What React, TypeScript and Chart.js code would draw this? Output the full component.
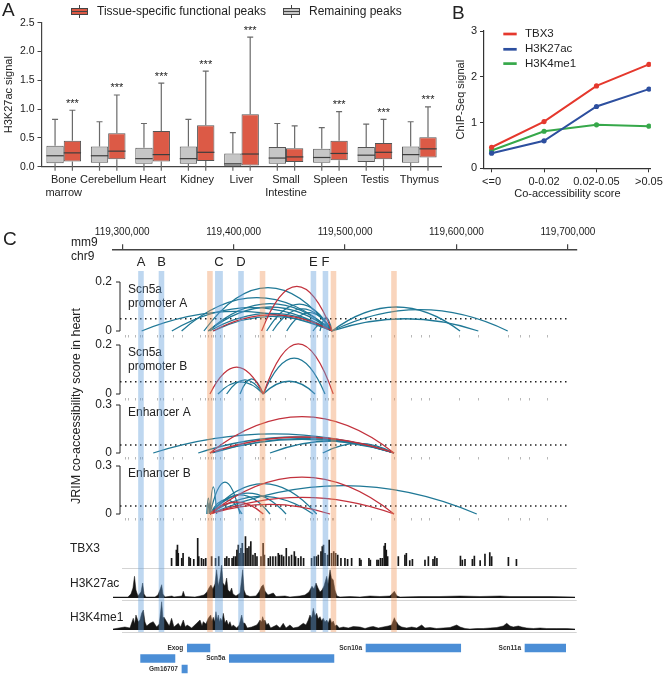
import React, { useEffect, useRef } from 'react';
import { Chart, registerables } from 'chart.js';

Chart.register(...registerables);

const FONT = '"Liberation Sans", Arial, Helvetica, sans-serif';
Chart.defaults.font.family = FONT;
Chart.defaults.color = '#222';

// ================= Panel A data =================
const tissues = [['Bone', 'marrow'], 'Cerebellum', 'Heart', 'Kidney', 'Liver', ['Small', 'Intestine'], 'Spleen', 'Testis', 'Thymus'];
const remainingMin = [0, 0, 0, 0, 0, 0, 0, 0, 0];
const remainingQ1 = [0.06, 0.07, 0.05, 0.05, 0.0, 0.05, 0.07, 0.08, 0.07];
const remainingMedian = [0.19, 0.19, 0.14, 0.14, 0.05, 0.15, 0.16, 0.2, 0.21];
const remainingQ3 = [0.365, 0.35, 0.33, 0.35, 0.23, 0.34, 0.31, 0.34, 0.35];
const remainingMax = [0.82, 0.78, 0.75, 0.82, 0.59, 0.75, 0.68, 0.74, 0.78];
const specificMin = [0, 0, 0, 0, 0, 0, 0, 0, 0];
const specificQ1 = [0.09, 0.13, 0.09, 0.1, 0.02, 0.08, 0.11, 0.13, 0.16];
const specificMedian = [0.24, 0.27, 0.21, 0.25, 0.22, 0.17, 0.23, 0.25, 0.31];
const specificQ3 = [0.45, 0.58, 0.62, 0.72, 0.91, 0.32, 0.45, 0.41, 0.51];
const specificMax = [0.98, 1.245, 1.45, 1.66, 2.25, 0.71, 0.955, 0.82, 1.04];
const significance = ['***', '***', '***', '***', '***', '', '***', '***', '***'];

// ================= Panel B data =================
const coBins = ['<=0', '0-0.02', '0.02-0.05', '>0.05'];
const tbx3Signal = [0.46, 1.02, 1.8, 2.27];
const h3k27acSignal = [0.33, 0.6, 1.35, 1.73];
const h3k4me1Signal = [0.39, 0.81, 0.95, 0.92];

// ================= Panel C data (kb on chr9, mm9) =================
const XMIN = 119291.7;
const XMAX = 119707.9;
const genomeTicks = [119300, 119400, 119500, 119600, 119700];
const blueBands = [[119314.3, 119319.3], [119332.7, 119337.7], [119383.3, 119390.3], [119404.1, 119409.1], [119469.1, 119474.1], [119479.9, 119484.9]];
const blueBandLetters = ['A', 'B', 'C', 'D', 'E', 'F'];
const orangeBands = [[119376.2, 119381.2], [119423.4, 119428.4], [119487.1, 119492.1], [119541.4, 119546.4]];

const peakSites = [119302.4, 119305.1, 119311.4, 119315.9, 119317.4, 119330.9, 119333.8, 119336.8, 119345.5, 119353.3,
  119369.8, 119374.2, 119376.9, 119379.4, 119381.4, 119383.2, 119387.7, 119391.3, 119405.7, 119419.1, 119421.8,
  119425.4, 119426.3, 119432.6, 119446.1, 119468.5, 119471.2, 119474.5, 119482.0, 119484.7, 119488.0, 119489.1,
  119523.0, 119544.2, 119558.9, 119567.9, 119575.6, 119602.5, 119619.6, 119646.0, 119657.0, 119665.1, 119681.5];

// [start kb, end kb, co-accessibility score, colour group]
const promoterAArcs = [
  [119317.4, 119488.3, 0.08, 't'], [119344.5, 119488.3, 0.095, 't'], [119353.3, 119488.3, 0.136, 't'],
  [119373.3, 119488.3, 0.177, 't'], [119377.2, 119488.3, 0.112, 't'], [119377.2, 119488.3, 0.098, 't'],
  [119378.5, 119488.3, 0.072, 't'], [119381.7, 119488.3, 0.06, 't'], [119429.6, 119488.3, 0.11, 't'],
  [119435.0, 119488.3, 0.09, 't'], [119447.6, 119488.3, 0.075, 't'], [119471.2, 119488.3, 0.03, 't'],
  [119477.5, 119488.3, 0.055, 't'], [119488.3, 119603.2, 0.098, 't'], [119488.3, 119619.6, 0.05, 't'],
  [119488.3, 119646.0, 0.087, 't'], [119381.7, 119488.3, 0.066, 'r'], [119425.1, 119488.3, 0.182, 'r'],
];
const promoterBArcs = [
  [119385.9, 119426.6, 0.05, 't'], [119393.7, 119426.6, 0.058, 't'], [119405.7, 119426.6, 0.062, 't'],
  [119426.6, 119473.0, 0.052, 't'], [119426.6, 119482.0, 0.146, 't'],
  [119378.7, 119426.6, 0.11, 'r'], [119426.6, 119489.4, 0.205, 'r'],
];
const enhancerAArcs = [
  [119327.8, 119543.9, 0.119, 't'], [119368.2, 119543.9, 0.1, 't'], [119378.7, 119543.9, 0.085, 't'],
  [119381.0, 119543.9, 0.092, 't'], [119432.6, 119543.9, 0.075, 't'], [119480.0, 119543.9, 0.06, 't'],
  [119378.7, 119543.9, 0.227, 'r'], [119378.7, 119543.9, 0.1, 'r'],
];
const enhancerBArcs = [
  [119375.9, 119378.7, 0.1, 't'], [119376.9, 119378.7, 0.07, 't'], [119378.7, 119384.7, 0.17, 't'],
  [119378.7, 119405.7, 0.2, 't'], [119378.7, 119407.5, 0.09, 't'], [119378.7, 119432.6, 0.12, 't'],
  [119378.7, 119447.0, 0.13, 't'], [119378.7, 119471.2, 0.11, 't'], [119378.7, 119474.5, 0.19, 't'],
  [119378.7, 119618.2, 0.177, 't'], [119378.7, 119426.6, 0.075, 'r'], [119378.7, 119486.5, 0.06, 'r'],
  [119378.7, 119543.9, 0.104, 'r'], [119378.7, 119543.9, 0.23, 'r'],
];

// ChIP-seq signal bins [kb, signal]
const tbx3Bins = [
  [119305.4, 7.7], [119310.8, 16], [119312.0, 21], [119312.9, 12.7], [119316.8, 7.7], [119318.3, 12.7], [119324.9, 9],
  [119326.4, 7.7], [119330.3, 6.7], [119334.7, 27.7], [119335.9, 9.3], [119339.0, 7.7], [119341.3, 6.7], [119343.7, 7.7],
  [119350.3, 9.3], [119354.8, 7.7], [119358.3, 9.3], [119365.3, 7.7], [119367.3, 9.3], [119369.8, 7.7], [119373.3, 7.7],
  [119375.1, 9.3], [119377.2, 9.3], [119378.7, 16], [119380.3, 21], [119381.7, 12.7], [119383.2, 17.7], [119384.7, 22.7],
  [119386.2, 12.7], [119388.3, 29.3], [119390.1, 17.7], [119392.2, 19.3], [119394.3, 24.3], [119396.7, 11], [119399.1, 12.7],
  [119401.2, 9.3], [119405.7, 9.3], [119408.1, 22.7], [119409.5, 11], [119414.0, 7.7], [119416.2, 9.3], [119419.1, 9.3],
  [119422.1, 9.3], [119425.1, 12.7], [119426.6, 11], [119429.0, 11], [119431.1, 9.3], [119434.1, 17.7], [119437.1, 9.3],
  [119440.0, 11], [119443.1, 14.3], [119444.5, 9.3], [119447.6, 7.7], [119450.5, 9.3], [119453.5, 7.7], [119462.5, 7.7],
  [119465.5, 9.3], [119467.9, 9.3], [119470.0, 11], [119473.0, 14.3], [119474.5, 19.3], [119475.9, 21], [119477.5, 12.7],
  [119480.4, 11], [119482.2, 26], [119484.9, 12.7], [119487.3, 14.3], [119489.4, 12.7], [119491.8, 11], [119495.4, 7.7],
  [119499.9, 7.7], [119502.9, 6.7], [119507.4, 7.7], [119516.4, 7.7], [119517.9, 6], [119526.8, 7.7], [119528.4, 6],
  [119535.8, 6], [119537.3, 6], [119539.7, 7.7], [119541.8, 7.7], [119543.9, 20], [119545.1, 22.7], [119546.3, 16],
  [119547.8, 9.3], [119559.8, 9.3], [119567.2, 11], [119568.8, 12.7], [119572.6, 5.3], [119575.6, 6.7], [119589.7, 6],
  [119593.5, 9.3], [119598.7, 6.7], [119600.7, 9.3], [119603.1, 7.7], [119629.5, 10], [119631.6, 6], [119634.6, 6.7],
  [119642.9, 6.7], [119645.1, 10], [119651.6, 5.3], [119657.0, 12], [119662.4, 13.3], [119664.5, 9.3], [119683.3, 8.7],
  [119692.3, 6.7],
];
const h3k27acProfile = [
  [119291.7, 1], [119305.1, 1], [119307.8, 4], [119309.6, 10], [119311.0, 21.7], [119312.3, 8], [119314.1, 2], [119316.8, 6],
  [119318.3, 15], [119319.5, 4], [119321.3, 1], [119329.4, 1], [119332.0, 3], [119333.8, 8], [119335.4, 13.3], [119336.5, 4],
  [119338.3, 1], [119344.6, 2], [119346.4, 1], [119353.6, 2], [119354.8, 6.7], [119356.3, 1.5], [119365.3, 1], [119369.8, 2],
  [119373.3, 3], [119376.0, 6], [119377.8, 10], [119379.6, 13], [119381.4, 9], [119383.2, 14], [119384.7, 28.3],
  [119386.2, 12], [119387.7, 20], [119389.2, 33], [119390.4, 15], [119392.2, 12], [119393.7, 20], [119394.9, 8],
  [119396.7, 6], [119398.2, 10], [119399.4, 4], [119402.1, 2], [119405.7, 5], [119408.1, 28.3], [119409.3, 8], [119411.0, 3],
  [119414.6, 1.5], [119420.0, 2], [119422.7, 6], [119425.1, 11.7], [119426.6, 13.3], [119428.1, 7], [119430.8, 3],
  [119435.6, 5], [119438.0, 1.5], [119446.1, 2], [119450.5, 1], [119459.5, 2], [119464.0, 3], [119467.6, 6], [119470.3, 11.7],
  [119472.1, 9], [119473.9, 15], [119475.7, 10], [119477.5, 6], [119479.3, 8], [119481.1, 12], [119483.5, 21.7],
  [119484.7, 14], [119486.5, 28.3], [119487.8, 20], [119489.4, 18], [119490.9, 8], [119492.7, 2], [119495.4, 1],
  [119504.4, 1.5], [119513.4, 1], [119522.4, 2], [119531.3, 1.5], [119540.3, 2], [119544.2, 6.7], [119546.6, 2],
  [119549.3, 1], [119567.2, 1.5], [119585.2, 1.5], [119603.2, 2], [119621.1, 1.5], [119639.1, 2], [119648.0, 1.5],
  [119666.0, 1.5], [119684.0, 1.5], [119706.4, 1],
];
const h3k4me1Profile = [
  [119291.7, 1], [119302.4, 3], [119306.9, 2], [119309.9, 11.7], [119311.1, 6], [119312.3, 15], [119314.4, 8.3], [119315.9, 10],
  [119317.4, 16.7], [119318.9, 20], [119320.4, 8], [119321.9, 4], [119324.9, 6.7], [119327.8, 8.3], [119330.9, 3],
  [119333.2, 6], [119335.4, 28.3], [119336.5, 12], [119337.4, 13], [119339.9, 8.3], [119342.2, 4], [119344.3, 11.7],
  [119346.4, 3], [119350.3, 6.7], [119352.4, 3], [119354.8, 10], [119356.6, 3], [119358.3, 5], [119362.3, 2], [119366.8, 6.7],
  [119369.8, 10], [119371.6, 4], [119372.7, 8.3], [119375.1, 6], [119377.2, 11.7], [119379.4, 15], [119380.5, 9],
  [119381.7, 12.7], [119382.9, 8], [119384.1, 18.3], [119385.3, 10], [119386.2, 15], [119387.4, 8], [119388.3, 11.7],
  [119389.5, 9], [119390.7, 16.7], [119392.2, 7], [119393.7, 10], [119395.2, 5], [119396.7, 8.3], [119398.2, 3],
  [119399.6, 5], [119402.7, 2], [119405.0, 5], [119407.2, 15], [119408.6, 7], [119410.1, 6.7], [119412.2, 2], [119416.2, 3],
  [119420.7, 5], [119422.1, 7], [119423.6, 10], [119425.1, 8], [119426.0, 13.3], [119427.2, 9], [119428.1, 10],
  [119429.6, 5], [119431.1, 6.7], [119433.2, 2], [119438.6, 5], [119441.6, 2], [119444.5, 6.7], [119447.0, 2], [119450.5, 5],
  [119453.5, 2], [119458.0, 3], [119462.5, 6.7], [119464.9, 5], [119467.0, 10], [119468.5, 15], [119470.0, 12],
  [119471.5, 21.7], [119473.0, 14], [119474.5, 16.7], [119475.9, 11], [119477.5, 13.3], [119479.0, 9], [119480.4, 11.7],
  [119482.0, 8], [119483.5, 10], [119484.9, 7], [119486.5, 11.7], [119488.0, 7], [119489.4, 8.9], [119490.9, 4],
  [119492.5, 5], [119494.8, 2], [119498.4, 3], [119502.9, 2], [119507.4, 3.5], [119513.4, 3], [119517.9, 1.5], [119522.4, 3],
  [119525.3, 3.5], [119529.8, 2], [119534.3, 3], [119538.8, 4], [119541.8, 5], [119544.2, 12.3], [119545.4, 9],
  [119546.3, 8], [119547.8, 5], [119550.8, 3], [119555.3, 2], [119559.8, 3], [119564.3, 2], [119568.8, 5], [119571.7, 2],
  [119576.2, 2.5], [119582.2, 1.5], [119588.2, 2], [119594.2, 2.5], [119600.2, 5], [119603.2, 3], [119607.7, 1.5],
  [119612.1, 1], [119618.2, 1.5], [119624.1, 1.5], [119630.1, 2], [119636.1, 2.5], [119642.0, 4], [119645.1, 6.7],
  [119648.0, 4], [119651.0, 3], [119655.5, 4], [119658.5, 3], [119663.0, 2], [119669.0, 1.5], [119675.0, 2], [119681.0, 1.5],
  [119690.0, 1.5], [119699.0, 1.5], [119706.4, 1],
];

const geneNames = ['Exog', '', 'Scn5a', 'Gm16707', 'Scn10a', 'Scn11a'];
const geneStarts = [119358.4, 119316.5, 119396.1, 119353.6, 119518.8, 119661.5];
const geneEnds = [119378.7, 119347.3, 119490.0, 119358.4, 119603.8, 119698.0];
const geneRows = ['row1', 'row2', 'row2', 'row3', 'row1', 'row1'];
const geneRowLabels = ['row1', 'row2', 'row3'];

// ================= styles =================
const RED_BOX = '#dc5a46';
const GRAY_BOX = '#c6c6c6';
const TEAL = '#1f7896';
const ARC_RED = '#c2313c';
const C_PAD_LEFT = 113;
const C_PAD_RIGHT = 89.3;

const baseOptions = { animation: false, responsive: false, events: [] as any[] };
const noPlugins = { legend: { display: false }, tooltip: { enabled: false } };

// ================= Panel A =================
function boxIcon(ctx: any, x: number, y: number, w: number, h: number, fill: string) {
  ctx.fillStyle = fill;
  ctx.strokeStyle = '#444';
  ctx.lineWidth = 1;
  ctx.fillRect(x, y + 2, w, h - 4);
  ctx.strokeRect(x + 0.5, y + 2.5, w - 1, h - 5);
  ctx.beginPath();
  ctx.moveTo(x, y + h / 2); ctx.lineTo(x + w, y + h / 2);
  ctx.moveTo(x + w / 2, y - 1); ctx.lineTo(x + w / 2, y + 2);
  ctx.moveTo(x + w / 2, y + h - 2); ctx.lineTo(x + w / 2, y + h + 1);
  ctx.stroke();
}

const panelAPlugin = {
  id: 'panelA',
  afterDatasetsDraw(chart: any) {
    const { ctx, scales: { y } } = chart;
    ctx.save();
    chart.data.datasets.forEach((ds: any, di: number) => {
      const meta = chart.getDatasetMeta(di);
      const st = ds.stats;
      meta.data.forEach((bar: any, i: number) => {
        const cx = bar.x, hw = bar.width / 2;
        const pMax = y.getPixelForValue(st.max[i]);
        const pQ3 = y.getPixelForValue(st.q3[i]);
        const pQ1 = y.getPixelForValue(st.q1[i]);
        const pMin = y.getPixelForValue(st.min[i]);
        const pMed = y.getPixelForValue(st.med[i]);
        ctx.strokeStyle = '#6a6a6a';
        ctx.lineWidth = 1.2;
        ctx.beginPath();
        ctx.moveTo(cx, pQ3); ctx.lineTo(cx, pMax);
        ctx.moveTo(cx - 3, pMax); ctx.lineTo(cx + 3, pMax);
        ctx.moveTo(cx, pQ1); ctx.lineTo(cx, pMin + 4);
        ctx.stroke();
        ctx.strokeStyle = '#3d3d3d';
        ctx.beginPath();
        ctx.moveTo(cx - hw, pMed); ctx.lineTo(cx + hw, pMed);
        ctx.stroke();
        if (ds.marks && ds.marks[i]) {
          ctx.fillStyle = '#222';
          ctx.font = `11px ${FONT}`;
          ctx.textAlign = 'center';
          ctx.textBaseline = 'alphabetic';
          ctx.fillText(ds.marks[i], cx, pMax - 3.5);
        }
      });
    });
    ctx.restore();
  },
  afterDraw(chart: any) {
    const ctx = chart.ctx;
    ctx.save();
    ctx.fillStyle = '#222';
    ctx.font = `19px ${FONT}`;
    ctx.textAlign = 'left';
    ctx.textBaseline = 'middle';
    ctx.fillText('A', 2, 11);
    const ds = chart.data.datasets;
    const items = [[ds[1], 71, 97], [ds[0], 283, 309]];
    items.forEach(([d, ix, tx]: any) => {
      boxIcon(ctx, ix, 6, 17, 11, d.backgroundColor);
      ctx.fillStyle = '#222';
      ctx.font = `12px ${FONT}`;
      ctx.textBaseline = 'middle';
      ctx.fillText(d.label, tx, 11.5);
    });
    ctx.restore();
  },
};

function boxDataset(label: string, fill: string, q1: number[], med: number[], q3: number[], min: number[], max: number[], marks?: string[]) {
  return {
    label,
    data: q1.map((v, i) => [v, q3[i]]),
    backgroundColor: fill,
    borderColor: '#555',
    borderWidth: 1,
    borderSkipped: false,
    categoryPercentage: 0.78,
    barPercentage: 1,
    stats: { q1, med, q3, min, max },
    marks,
  };
}

function panelAConfig() {
  return {
    type: 'bar',
    data: {
      labels: tissues,
      datasets: [
        boxDataset('Remaining peaks', GRAY_BOX, remainingQ1, remainingMedian, remainingQ3, remainingMin, remainingMax),
        boxDataset('Tissue-specific functional peaks', RED_BOX, specificQ1, specificMedian, specificQ3, specificMin, specificMax, significance),
      ],
    },
    options: {
      ...baseOptions,
      layout: { padding: { left: 0, right: 2, top: 22.7, bottom: 0 } },
      plugins: noPlugins,
      scales: {
        x: {
          grid: { display: false, drawTicks: false },
          border: { color: '#444', width: 1.2 },
          ticks: { font: { size: 11, lineHeight: 1.15 }, padding: 7, maxRotation: 0, autoSkip: false, color: '#222' },
          afterFit: (s: any) => { s.height = 38.3; },
        },
        y: {
          min: 0, max: 2.5,
          ticks: { stepSize: 0.5, callback: (v: any) => Number(v).toFixed(1), font: { size: 10.5 }, padding: 3, color: '#222' },
          grid: { display: true, drawOnChartArea: false, drawTicks: true, tickLength: 4, color: '#444' },
          border: { color: '#444', width: 1.2 },
          title: { display: true, text: 'H3K27ac signal', font: { size: 11 }, padding: { top: 2, bottom: 0 }, color: '#222' },
          afterFit: (s: any) => { s.width = 41.5; },
        },
      },
    },
    plugins: [panelAPlugin],
  };
}

// ================= Panel B =================
const panelBPlugin = {
  id: 'panelB',
  afterDraw(chart: any) {
    const ctx = chart.ctx;
    ctx.save();
    ctx.fillStyle = '#222';
    ctx.font = `19px ${FONT}`;
    ctx.textAlign = 'left';
    ctx.textBaseline = 'middle';
    ctx.fillText('B', 12, 13.5);
    const ys = [34, 49.3, 63.6];
    chart.data.datasets.forEach((d: any, i: number) => {
      ctx.strokeStyle = d.borderColor;
      ctx.lineWidth = 2.7;
      ctx.beginPath();
      ctx.moveTo(63.3, ys[i]); ctx.lineTo(76.7, ys[i]);
      ctx.stroke();
      ctx.fillStyle = '#222';
      ctx.font = `11.5px ${FONT}`;
      ctx.fillText(d.label, 85, ys[i]);
    });
    ctx.restore();
  },
};

function lineDataset(label: string, values: number[], color: string) {
  return {
    label,
    data: values.map((v, i) => ({ x: i, y: v })),
    borderColor: color,
    backgroundColor: color,
    borderWidth: 2,
    pointRadius: 2.6,
    pointBorderWidth: 0,
    tension: 0,
  };
}

function panelBConfig() {
  return {
    type: 'line',
    data: {
      datasets: [
        lineDataset('TBX3', tbx3Signal, '#e5382d'),
        lineDataset('H3K27ac', h3k27acSignal, '#2d4f9f'),
        lineDataset('H3K4me1', h3k4me1Signal, '#36a84a'),
      ],
    },
    options: {
      ...baseOptions,
      layout: { padding: { left: 10, right: 13, top: 31, bottom: 0 } },
      plugins: noPlugins,
      scales: {
        x: {
          type: 'linear', min: -0.145, max: 3.038,
          afterBuildTicks: (s: any) => { s.ticks = coBins.map((_, i) => ({ value: i })); },
          ticks: { callback: (v: any) => coBins[v], font: { size: 11 }, padding: 3, autoSkip: false, maxRotation: 0, color: '#222' },
          grid: { display: true, drawOnChartArea: false, drawTicks: true, tickLength: 4, color: '#333' },
          border: { color: '#333', width: 1.2 },
          title: { display: true, text: 'Co-accessibility score', font: { size: 11 }, padding: { top: 0, bottom: 4 }, color: '#222' },
          afterFit: (s: any) => { s.height = 36.7; },
        },
        y: {
          min: 0, max: 3,
          ticks: { stepSize: 1, font: { size: 11 }, padding: 3, color: '#222' },
          grid: { display: true, drawOnChartArea: false, drawTicks: true, tickLength: 4, color: '#333' },
          border: { color: '#333', width: 1.2 },
          title: { display: true, text: 'ChIP-Seq signal', font: { size: 11 }, padding: { top: 4, bottom: 0 }, color: '#222' },
          afterFit: (s: any) => { s.width = 34; },
        },
      },
    },
    plugins: [panelBPlugin],
  };
}

// ================= Panel C: arcs =================
function arcPlugin(arcs: any[], title: string[]) {
  return {
    id: 'arcs',
    afterDraw(chart: any) {
      const { ctx, chartArea: a, scales: { x, y } } = chart;
      const y0 = y.getPixelForValue(0);
      const yT = y.getPixelForValue(y.max);
      ctx.save();
      const bx = a.left + 7;
      ctx.strokeStyle = '#222';
      ctx.lineWidth = 1;
      ctx.beginPath();
      ctx.moveTo(bx - 4, yT); ctx.lineTo(bx, yT); ctx.lineTo(bx, y0); ctx.lineTo(bx - 4, y0);
      ctx.stroke();
      // threshold
      const yth = y.getPixelForValue(0.05);
      ctx.setLineDash([1.5, 3.5]);
      ctx.lineWidth = 1.3;
      ctx.beginPath();
      ctx.moveTo(bx, yth); ctx.lineTo(a.right - 7, yth);
      ctx.stroke();
      ctx.setLineDash([]);
      // accessible peak sites
      ctx.strokeStyle = '#b8b8b8';
      ctx.lineWidth = 1;
      ctx.beginPath();
      peakSites.forEach((p) => {
        const px = Math.round(x.getPixelForValue(p)) + 0.5;
        ctx.moveTo(px, y0 + 4); ctx.lineTo(px, y0 + 6.5);
      });
      ctx.stroke();
      // arcs (teal first, red on top)
      ctx.lineWidth = 1.25;
      ['t', 'r'].forEach((grp) => {
        ctx.strokeStyle = grp === 'r' ? ARC_RED : TEAL;
        arcs.filter((r) => r[3] === grp).forEach(([s, e, score]) => {
          const x1 = x.getPixelForValue(s), x2 = x.getPixelForValue(e);
          const yp = y.getPixelForValue(score);
          ctx.beginPath();
          ctx.moveTo(x1, y0);
          ctx.quadraticCurveTo((x1 + x2) / 2, 2 * yp - y0, x2, y0);
          ctx.stroke();
        });
      });
      // panel label
      ctx.fillStyle = '#222';
      ctx.font = `12px ${FONT}`;
      ctx.textAlign = 'left';
      ctx.textBaseline = 'middle';
      title.forEach((t, i) => ctx.fillText(t, a.left + 15, yT + 8 + i * 13.5));
      ctx.restore();
    },
  };
}

function arcConfig(arcs: any[], yMax: number, title: string[]) {
  return {
    type: 'line',
    data: { datasets: [] },
    options: {
      ...baseOptions,
      layout: { padding: { left: C_PAD_LEFT - 40, right: C_PAD_RIGHT, top: 14, bottom: 10 } },
      plugins: noPlugins,
      scales: {
        x: { type: 'linear', display: false, min: XMIN, max: XMAX },
        y: {
          min: 0, max: yMax,
          afterBuildTicks: (s: any) => { s.ticks = [{ value: 0 }, { value: yMax }]; },
          afterFit: (s: any) => { s.width = 40; },
          ticks: { padding: 1, font: { size: 12 }, color: '#222', callback: (v: any) => (v === 0 ? '0' : String(v)) },
          grid: { display: false, drawTicks: false },
          border: { display: false },
        },
      },
    },
    plugins: [arcPlugin(arcs, title)],
  };
}

// ================= Panel C: tracks =================
const trackPlugin = {
  id: 'trackSep',
  afterDraw(chart: any) {
    const { ctx, chartArea: a } = chart;
    ctx.save();
    ctx.strokeStyle = '#d4d4d4';
    ctx.lineWidth = 1;
    ctx.beginPath();
    ctx.moveTo(a.left + 9, a.bottom + 2.5); ctx.lineTo(a.right, a.bottom + 2.5);
    ctx.stroke();
    ctx.restore();
  },
};

function trackConfig(kind: string, bins: number[][], yMax: number) {
  const data = bins.map(([p, v]) => ({ x: p, y: v }));
  const dataset = kind === 'bar'
    ? { data, backgroundColor: '#161616', barThickness: 1, borderWidth: 0 }
    : { data, fill: 'origin', backgroundColor: '#151515', borderColor: '#151515', borderWidth: 0.5, pointRadius: 0, tension: 0 };
  return {
    type: kind,
    data: { datasets: [dataset] },
    options: {
      ...baseOptions,
      layout: { padding: { left: C_PAD_LEFT, right: C_PAD_RIGHT, top: 3, bottom: 3 } },
      plugins: noPlugins,
      scales: {
        x: { type: 'linear', display: false, min: XMIN, max: XMAX },
        y: { display: false, min: 0, max: yMax },
      },
    },
    plugins: [trackPlugin],
  };
}

// ================= Panel C: genes =================
const genePlugin = {
  id: 'geneLabels',
  afterDatasetsDraw(chart: any) {
    const { ctx } = chart;
    const meta = chart.getDatasetMeta(0);
    ctx.save();
    ctx.fillStyle = '#333';
    ctx.font = `bold 6.5px ${FONT}`;
    ctx.textAlign = 'right';
    ctx.textBaseline = 'middle';
    meta.data.forEach((el: any, i: number) => {
      if (!geneNames[i]) return;
      const left = Math.min(el.x, el.base);
      ctx.fillText(geneNames[i], left - 4, el.y);
    });
    ctx.restore();
  },
};

function geneConfig() {
  return {
    type: 'bar',
    data: {
      labels: geneRowLabels,
      datasets: [{
        data: geneStarts.map((s, i) => ({ x: [s, geneEnds[i]], y: geneRows[i] })),
        backgroundColor: '#4b8ed6',
        borderWidth: 0,
        barThickness: 8,
        borderSkipped: false,
      }],
    },
    options: {
      ...baseOptions,
      indexAxis: 'y',
      layout: { padding: { left: C_PAD_LEFT, right: C_PAD_RIGHT, top: 6.75, bottom: 1.75 } },
      plugins: noPlugins,
      scales: {
        x: { type: 'linear', display: false, min: XMIN, max: XMAX },
        y: { type: 'category', display: false, offset: true },
      },
    },
    plugins: [genePlugin],
  };
}

// ================= Panel C: frame (genome axis, highlight bands, labels) =================
const framePlugin = {
  id: 'frame',
  afterDraw(chart: any) {
    const { ctx, scales: { x } } = chart;
    const top = 51, bottom = 412; // canvas coordinates
    ctx.save();
    const band = (r: number[], color: string) => {
      const x1 = x.getPixelForValue(r[0]), x2 = x.getPixelForValue(r[1]);
      ctx.fillStyle = color;
      ctx.fillRect(x1, top, x2 - x1, bottom - top);
    };
    blueBands.forEach((r) => band(r, 'rgba(100,160,220,0.42)'));
    orangeBands.forEach((r) => band(r, 'rgba(240,150,90,0.4)'));
    ctx.fillStyle = '#222';
    ctx.font = `13px ${FONT}`;
    ctx.textAlign = 'center';
    ctx.textBaseline = 'middle';
    blueBands.forEach((r, i) => ctx.fillText(blueBandLetters[i], x.getPixelForValue((r[0] + r[1]) / 2), 42));
    ctx.textAlign = 'left';
    ctx.font = `19px ${FONT}`;
    ctx.fillText('C', 3, 20);
    ctx.font = `12px ${FONT}`;
    ctx.fillText('mm9', 71, 23);
    ctx.fillText('chr9', 71, 37);
    ctx.fillText('TBX3', 70, 329);
    ctx.fillText('H3K27ac', 70, 364);
    ctx.fillText('H3K4me1', 70, 398);
    ctx.save();
    ctx.translate(77, 186);
    ctx.rotate(-Math.PI / 2);
    ctx.textAlign = 'center';
    ctx.font = `12.5px ${FONT}`;
    ctx.fillText('JRIM co-accessibility score in heart', 0, 0);
    ctx.restore();
    ctx.restore();
  },
};

function frameConfig() {
  return {
    type: 'line',
    data: { datasets: [] },
    options: {
      ...baseOptions,
      layout: { padding: { left: C_PAD_LEFT, right: C_PAD_RIGHT, top: 0, bottom: 0 } },
      plugins: noPlugins,
      scales: {
        x: {
          type: 'linear', position: 'top', min: XMIN, max: XMAX,
          afterBuildTicks: (s: any) => { s.ticks = genomeTicks.map((v) => ({ value: v })); },
          ticks: { callback: (v: any) => (Math.round(v * 1000)).toLocaleString('en-US'), font: { size: 10 }, padding: 6, maxRotation: 0, autoSkip: false, color: '#222' },
          grid: { display: true, drawOnChartArea: false, drawTicks: true, tickLength: 5, color: '#444', lineWidth: 1.2 },
          border: { color: '#444', width: 1.5 },
          afterFit: (s: any) => { s.height = 29.3; },
        },
        y: { display: false },
      },
    },
    plugins: [framePlugin],
  };
}

// ================= React =================
function ChartCanvas({ left, top, width, height, make, z }: any) {
  const ref = useRef<HTMLCanvasElement>(null);
  useEffect(() => {
    const chart = new Chart(ref.current as any, make());
    return () => chart.destroy();
  }, []);
  return (
    <canvas
      ref={ref}
      width={width}
      height={height}
      style={{ position: 'absolute', left, top, width, height, zIndex: z || 1, pointerEvents: 'none' }}
    />
  );
}

export default function App() {
  return (
    <div style={{ position: 'absolute', left: 0, top: 0, width: 666, height: 676, background: '#fff', overflow: 'hidden' }}>
      <ChartCanvas left={0} top={0} width={446} height={205} make={panelAConfig} />
      <ChartCanvas left={440} top={0} width={226} height={205} make={panelBConfig} />
      <ChartCanvas left={0} top={267.7} width={666} height={73} make={() => arcConfig(promoterAArcs, 0.2, ['Scn5a', 'promoter A'])} />
      <ChartCanvas left={0} top={331} width={666} height={73} make={() => arcConfig(promoterBArcs, 0.2, ['Scn5a', 'promoter B'])} />
      <ChartCanvas left={0} top={391} width={666} height={72} make={() => arcConfig(enhancerAArcs, 0.3, ['Enhancer A'])} />
      <ChartCanvas left={0} top={452} width={666} height={72} make={() => arcConfig(enhancerBArcs, 0.3, ['Enhancer B'])} />
      <ChartCanvas left={0} top={533} width={666} height={36} make={() => trackConfig('bar', tbx3Bins, 30)} />
      <ChartCanvas left={0} top={561} width={666} height={40} make={() => trackConfig('line', h3k27acProfile, 34)} />
      <ChartCanvas left={0} top={597} width={666} height={36} make={() => trackConfig('line', h3k4me1Profile, 30)} />
      <ChartCanvas left={0} top={636} width={666} height={40} make={geneConfig} />
      <ChartCanvas left={0} top={220} width={666} height={456} make={frameConfig} z={5} />
    </div>
  );
}
